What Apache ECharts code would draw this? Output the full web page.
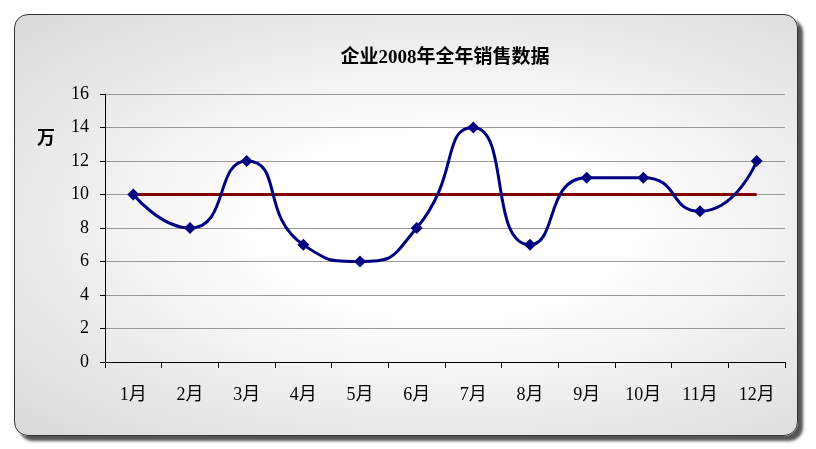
<!DOCTYPE html>
<html>
<head>
<meta charset="utf-8">
<script src="https://cdn.jsdelivr.net/npm/echarts@6/dist/echarts.min.js"></script>
<style>
  html, body { margin: 0; padding: 0; background: #fff; }
  #box {
    position: absolute; left: 14px; top: 14px; width: 782px; height: 420px;
    border: 1px solid #333; border-radius: 14px;
    background: radial-gradient(ellipse at 55% 50%, #ffffff 30%, #d9d9d9 100%);
    box-shadow: 5px 5px 3px #555;
  }
  #chart { position: absolute; left: 0; top: 0; width: 816px; height: 449px; }
</style>
</head>
<body>
<div id="box"></div>
<div id="chart"></div>
<script>
  var months = ['1月', '2月', '3月', '4月', '5月', '6月', '7月', '8月', '9月', '10月', '11月', '12月'];
  var sales = [10, 8, 12, 7, 6, 8, 14, 7, 11, 11, 9, 12];
  var target = [10, 10, 10, 10, 10, 10, 10, 10, 10, 10, 10, 10];

  var font = '"Liberation Serif", "Noto Sans CJK SC", serif';
  var myChart = echarts.init(document.getElementById('chart'));
  myChart.setOption({
    animation: false,
    title: {
      text: '企业2008年全年销售数据', left: 440, top: 44, textAlign: 'center',
      textStyle: { fontFamily: font, fontSize: 19, fontWeight: 'bold', color: '#000' }
    },
    grid: { left: 105, right: 31, top: 94, bottom: 87 },
    xAxis: {
      type: 'category', data: months, boundaryGap: true,
      axisLine: { lineStyle: { color: '#000' } },
      axisTick: { show: true, length: 6, inside: false, lineStyle: { color: '#000' } },
      axisLabel: { fontFamily: font, fontSize: 18, color: '#000', margin: 24 }
    },
    yAxis: {
      type: 'value', min: 0, max: 16, interval: 2,
      name: '万', nameLocation: 'end', nameGap: 0,
      nameTextStyle: { fontFamily: font, fontSize: 18, fontWeight: 'bold', color: '#000', padding: [0, 118, -54, 0] },
      axisLine: { show: true, lineStyle: { color: '#000' } },
      axisTick: { show: true, length: 5, lineStyle: { color: '#000' } },
      axisLabel: { fontFamily: font, fontSize: 18, color: '#000', margin: 16 },
      splitLine: { lineStyle: { color: '#999' } }
    },
    series: [
      {
        type: 'line', data: target, symbol: 'none',
        lineStyle: { color: '#800000', width: 3 }, z: 2
      },
      {
        type: 'line', data: sales, smooth: 0.6, symbol: 'diamond', symbolSize: 12,
        lineStyle: { color: '#000080', width: 3 },
        itemStyle: { color: '#000080' }, z: 3
      }
    ]
  });
</script>
</body>
</html>
